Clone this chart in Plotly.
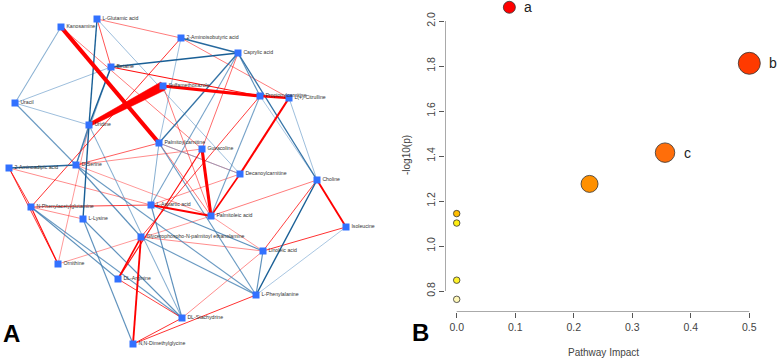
import plotly.graph_objects as go

# ---------------- Panel A: correlation network ----------------
node_names = [
    "L-Glutamic acid", "Kanosamine", "2-Aminoisobutyric acid", "Caprylic acid", "Betaine",
    "Sulfamethoxazole", "Propionylcarnitine", "L(+)-Citrulline", "Uracil", "Uridine",
    "Palmitoylcarnitine", "Guvacoline", "D-Serine", "2-Aminoadipic acid", "Decanoylcarnitine",
    "Choline", "L-Aspartic acid", "N-Phenylacetylglutamine", "Palmitoleic acid", "L-Lysine",
    "Isoleucine", "Glycerophospho-N-palmitoyl ethanolamine", "Linoleic acid", "Ornithine",
    "DL-Arginine", "L-Phenylalanine", "DL-Stachydrine", "N,N-Dimethylglycine",
]
node_x = [97, 61, 181, 238, 111, 163, 260, 289, 15, 89,
          159, 202, 76, 9, 240, 317, 151, 31, 211, 83,
          346, 141, 263, 58, 118, 256, 182, 133]
node_y = [19, 27, 38, 53, 67, 86, 96, 98, 103, 125,
          143, 149, 165, 168, 174, 180, 205, 207, 216, 219,
          227, 237, 251, 264, 279, 295, 318, 344]

edge_src = [
    "Sulfamethoxazole", "Kanosamine", "Sulfamethoxazole", "Guvacoline", "L-Aspartic acid",
    "Decanoylcarnitine", "Choline", "Glycerophospho-N-palmitoyl ethanolamine", "Betaine", "Propionylcarnitine",
    "Decanoylcarnitine", "DL-Arginine", "DL-Arginine", "N-Phenylacetylglutamine", "2-Aminoadipic acid",
    "N-Phenylacetylglutamine", "N-Phenylacetylglutamine", "N-Phenylacetylglutamine", "L-Glutamic acid", "L-Glutamic acid",
    "2-Aminoisobutyric acid", "Caprylic acid", "Kanosamine", "D-Serine", "D-Serine",
    "Palmitoylcarnitine", "Choline", "Choline", "Isoleucine", "Glycerophospho-N-palmitoyl ethanolamine",
    "Linoleic acid", "L-Phenylalanine", "DL-Stachydrine", "DL-Arginine", "N-Phenylacetylglutamine",
    "2-Aminoadipic acid", "Decanoylcarnitine", "Propionylcarnitine", "Sulfamethoxazole", "Ornithine",
    "Ornithine", "D-Serine", "Palmitoleic acid", "Palmitoylcarnitine",
    # negative correlations
    "Betaine", "2-Aminoisobutyric acid", "L-Glutamic acid", "Betaine", "Kanosamine",
    "Uracil", "Uracil", "Uracil", "2-Aminoadipic acid", "Uridine",
    "Uridine", "L-Glutamic acid", "2-Aminoisobutyric acid", "Caprylic acid", "Caprylic acid",
    "Caprylic acid", "Palmitoylcarnitine", "Propionylcarnitine", "L(+)-Citrulline", "Choline",
    "Isoleucine", "Linoleic acid", "L-Aspartic acid", "D-Serine", "Palmitoylcarnitine",
    "L-Aspartic acid", "L-Lysine", "L-Lysine", "N-Phenylacetylglutamine", "D-Serine",
    "D-Serine", "Palmitoylcarnitine", "Glycerophospho-N-palmitoyl ethanolamine", "Uridine", "Propionylcarnitine",
    "L-Aspartic acid", "N-Phenylacetylglutamine",
]
edge_dst = [
    "Uridine", "Palmitoylcarnitine", "Propionylcarnitine", "Palmitoleic acid", "Palmitoleic acid",
    "L(+)-Citrulline", "Isoleucine", "N,N-Dimethylglycine", "Propionylcarnitine", "L(+)-Citrulline",
    "Palmitoleic acid", "Glycerophospho-N-palmitoyl ethanolamine", "Guvacoline", "Ornithine", "Ornithine",
    "2-Aminoadipic acid", "L-Aspartic acid", "2-Aminoisobutyric acid", "Betaine", "2-Aminoisobutyric acid",
    "L(+)-Citrulline", "Guvacoline", "Guvacoline", "Palmitoylcarnitine", "Guvacoline",
    "Palmitoleic acid", "Palmitoleic acid", "Linoleic acid", "Linoleic acid", "Linoleic acid",
    "DL-Stachydrine", "N,N-Dimethylglycine", "N,N-Dimethylglycine", "DL-Stachydrine", "L-Lysine",
    "L-Aspartic acid", "L-Aspartic acid", "Glycerophospho-N-palmitoyl ethanolamine", "Palmitoleic acid", "Palmitoleic acid",
    "Uridine", "Palmitoleic acid", "Linoleic acid", "Decanoylcarnitine",
    # negative correlations
    "Caprylic acid", "Caprylic acid", "Uridine", "Uridine", "Uracil",
    "Betaine", "Uridine", "D-Serine", "D-Serine", "L-Lysine",
    "DL-Stachydrine", "Decanoylcarnitine", "Palmitoylcarnitine", "Palmitoylcarnitine", "Choline",
    "Propionylcarnitine", "Decanoylcarnitine", "Palmitoleic acid", "Choline", "L-Phenylalanine",
    "L-Phenylalanine", "L-Phenylalanine", "Linoleic acid", "L-Phenylalanine", "L-Phenylalanine",
    "DL-Stachydrine", "DL-Stachydrine", "N,N-Dimethylglycine", "DL-Arginine", "Glycerophospho-N-palmitoyl ethanolamine",
    "Betaine", "L-Aspartic acid", "L-Phenylalanine", "D-Serine", "Choline",
    "Caprylic acid", "DL-Stachydrine",
]
edge_r = [
    1.00, 0.93, 0.88, 0.88, 0.84,
    0.84, 0.83, 0.83, 0.80, 0.85,
    0.82, 0.82, 0.80, 0.80, 0.78,
    0.78, 0.75, 0.78, 0.72, 0.65,
    0.65, 0.68, 0.65, 0.70, 0.62,
    0.65, 0.65, 0.75, 0.78, 0.62,
    0.62, 0.78, 0.78, 0.75, 0.62,
    0.62, 0.62, 0.76, 0.65, 0.60,
    0.60, 0.60, 0.60, 0.62,
    -0.85, -0.80, -0.85, -0.85, -0.65,
    -0.62, -0.62, -0.70, -0.80, -0.85,
    -0.65, -0.62, -0.62, -0.78, -0.78,
    -0.72, -0.62, -0.68, -0.62, -0.85,
    -0.60, -0.72, -0.72, -0.70, -0.70,
    -0.72, -0.72, -0.72, -0.72, -0.72,
    -0.65, -0.65, -0.70, -0.75, -0.60,
    -0.68, -0.70,
]

# ---------------- Panel B: pathway impact ----------------
path_impact = [0.09, 0.50, 0.356, 0.227, 0.0, 0.0, 0.0, 0.0]
path_logp = [2.061, 1.812, 1.415, 1.276, 1.144, 1.102, 0.848, 0.763]
path_size = [12, 22, 19.5, 17, 6.5, 6.5, 6.5, 6.5]
path_color = ["#FF0000", "#FF3A00", "#FF6E0A", "#FF9000", "#FFBE00", "#FFEE10", "#FFF22A", "#FFF8B8"]
path_label = ["a", "b", "c", "", "", "", "", ""]
x_ticks = [0.0, 0.1, 0.2, 0.3, 0.4, 0.5]
y_ticks = [0.8, 1.0, 1.2, 1.4, 1.6, 1.8, 2.0]

W, H = 777, 360
FONT = "Liberation Sans, Arial, sans-serif"
fig = go.Figure()

pos = {n: (x, y) for n, x, y in zip(node_names, node_x, node_y)}


def edge_style(r):
    a = abs(r)
    t = min(1.0, max(0.0, (a - 0.6) / 0.22))
    if r > 0:
        width = 0.9 + 24 * max(0.0, a - 0.79)
        col = f"rgba(255,0,0,{0.45 + 0.55 * t:.2f})"
    else:
        width = 0.9 + 0.5 * t
        rr = int(110 - 85 * t)
        gg = int(160 - 65 * t)
        bb = int(205 - 55 * t)
        col = f"rgba({rr},{gg},{bb},{0.65 + 0.35 * t:.2f})"
    return width, col


order = sorted(range(len(edge_r)), key=lambda i: abs(edge_r[i]))
for i in order:
    s, d, r = edge_src[i], edge_dst[i], edge_r[i]
    w, c = edge_style(r)
    (x0, y0), (x1, y1) = pos[s], pos[d]
    if abs(r) >= 0.97:
        # strongest edge drawn as a tapered wedge (wide at the source node)
        dx, dy = x1 - x0, y1 - y0
        L = (dx * dx + dy * dy) ** 0.5
        nx, ny = -dy / L, dx / L
        w0, w1 = 4.5, 1.6
        xs = [x0 + nx * w0, x1 + nx * w1, x1 - nx * w1, x0 - nx * w0, x0 + nx * w0]
        ys = [y0 + ny * w0, y1 + ny * w1, y1 - ny * w1, y0 - ny * w0, y0 + ny * w0]
        fig.add_trace(go.Scatter(x=xs, y=ys, mode="lines", fill="toself", fillcolor="rgb(255,0,0)",
                                 line=dict(color="rgb(255,0,0)", width=0.5),
                                 hoverinfo="skip", showlegend=False, xaxis="x", yaxis="y"))
    else:
        fig.add_trace(go.Scatter(
            x=[x0, x1], y=[y0, y1],
            mode="lines", line=dict(color=c, width=w),
            hoverinfo="skip", showlegend=False, xaxis="x", yaxis="y",
        ))

fig.add_trace(go.Scatter(
    x=node_x, y=node_y, mode="markers+text", text=node_names,
    textposition="middle right",
    textfont=dict(size=5.2, color="#333333", family=FONT),
    marker=dict(symbol="square", size=7, color="#3271FF", line=dict(width=0)),
    showlegend=False, xaxis="x", yaxis="y", cliponaxis=False,
))

fig.add_trace(go.Scatter(
    x=path_impact, y=path_logp, mode="markers",
    marker=dict(size=path_size, color=path_color, line=dict(color="#333333", width=0.8),
                opacity=1),
    showlegend=False, xaxis="x2", yaxis="y2", cliponaxis=False,
))

annotations = []
for xi, yi, lab, sz in zip(path_impact, path_logp, path_label, path_size):
    if lab:
        annotations.append(dict(
            x=xi, y=yi, xref="x2", yref="y2", text=lab, showarrow=False,
            xanchor="left", yanchor="middle", xshift=sz / 2 + 7,
            font=dict(size=14, color="#222222", family=FONT),
        ))

annotations += [
    dict(x=11 / W, y=1 - 333 / H, xref="paper", yref="paper", text="<b>A</b>", showarrow=False,
         xanchor="center", yanchor="middle",
         font=dict(size=24, color="#000000", family=FONT)),
    dict(x=420 / W, y=1 - 332 / H, xref="paper", yref="paper", text="<b>B</b>", showarrow=False,
         xanchor="center", yanchor="middle",
         font=dict(size=24, color="#000000", family=FONT)),
    dict(x=406 / W, y=1 - 155 / H, xref="paper", yref="paper", text="-log10(p)", showarrow=False,
         xanchor="center", yanchor="middle",
         textangle=-90, font=dict(size=10, color="#444444", family=FONT)),
    dict(x=603 / W, y=1 - 352 / H, xref="paper", yref="paper", text="Pathway Impact", showarrow=False,
         xanchor="center", yanchor="middle",
         font=dict(size=10, color="#444444", family=FONT)),
]

ylo = 2.0 - (312 - 21) / 225
yhi = 2.0 + 21 / 225
shapes = [
    dict(type="line", xref="x2", yref="y2", x0=-0.02, x1=-0.02, y0=0.8, y1=2.0,
         line=dict(color="#555555", width=1)),
    dict(type="line", xref="x2", yref="y2", x0=0.0, x1=0.5, y0=ylo, y1=ylo,
         line=dict(color="#555555", width=1)),
]

tickfont = dict(size=10.5, color="#444444", family=FONT)
fig.update_layout(
    width=W, height=H, margin=dict(l=0, r=0, t=0, b=0),
    paper_bgcolor="white", plot_bgcolor="white",
    xaxis=dict(domain=[0, 380 / W], range=[0, 380], visible=False, fixedrange=True),
    yaxis=dict(domain=[0, 1], range=[360, 0], visible=False, fixedrange=True),
    xaxis2=dict(domain=[445 / W, 761 / W], range=[-0.02, 0.52], anchor="y2",
                tickvals=x_ticks, ticktext=[f"{v:.1f}" for v in x_ticks],
                ticks="outside", ticklen=5, tickcolor="#555555", tickwidth=1,
                showgrid=False, zeroline=False, showline=False, tickfont=tickfont),
    yaxis2=dict(domain=[(H - 312) / H, 1], range=[ylo, yhi], anchor="x2",
                tickvals=y_ticks, ticktext=[f"{v:.1f}" for v in y_ticks],
                ticks="outside", ticklen=5, tickcolor="#555555", tickwidth=1, tickangle=-90,
                showgrid=False, zeroline=False, showline=False, tickfont=tickfont),
    annotations=annotations, shapes=shapes,
)

fig.write_html("out.html", config={"displayModeBar": False, "staticPlot": True},
               post_script="document.body.style.margin='0px';")
